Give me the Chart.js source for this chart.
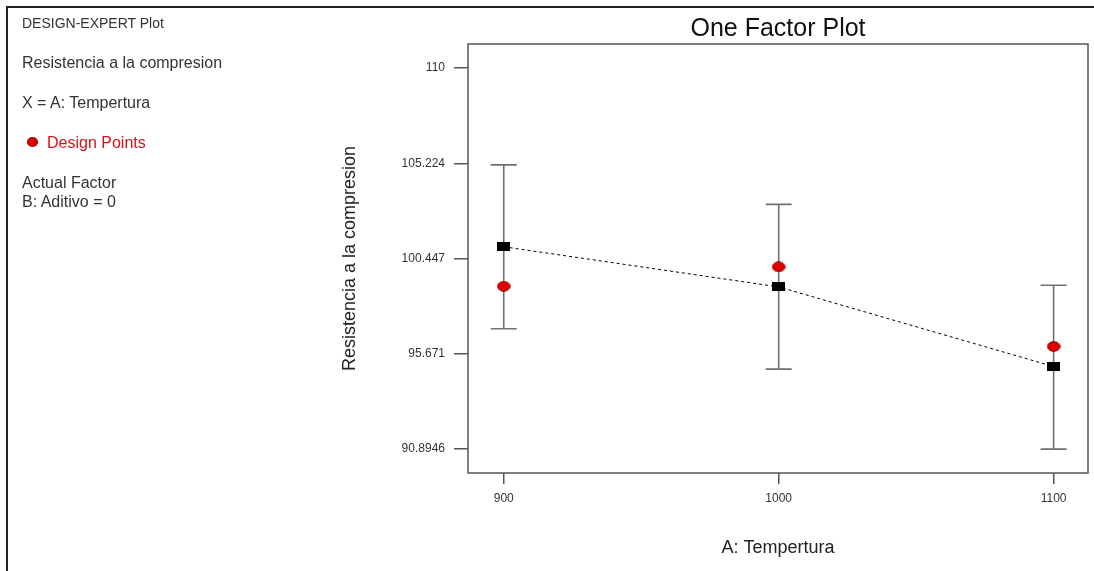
<!DOCTYPE html>
<html>
<head>
<meta charset="utf-8">
<script src="https://cdn.jsdelivr.net/npm/chart.js@4/dist/chart.umd.min.js"></script>
<style>
  body { margin: 0; background: #fff; font-family: "Liberation Sans", Arial, sans-serif; }
  #wrap { position: relative; width: 1094px; height: 571px; overflow: hidden; }
  #frame { position: absolute; left: 6px; top: 6px; width: 1200px; height: 700px; border: 2px solid #222; box-sizing: border-box; pointer-events: none; }
  .info { position: absolute; left: 22px; font-size: 16px; color: #333; line-height: 19px; }
  .head { font-size: 14px; }
  .red { color: #d0141a; }
  .dot { display: inline-block; width: 9px; height: 8px; border-radius: 50%; background: #e00000; border: 1px solid #900; margin: 0 9px 0 -20px; vertical-align: 1px; }
</style>
</head>
<body>
<div id="wrap">
  <canvas id="chart" width="1094" height="571"></canvas>
  <div id="frame"></div>
  <div class="info head" style="top:14px">DESIGN-EXPERT Plot</div>
  <div class="info" style="top:53px">Resistencia a la compresion</div>
  <div class="info" style="top:93px">X = A: Tempertura</div>
  <div class="info red" style="top:133px; left:47px"><span class="dot"></span>Design Points</div>
  <div class="info" style="top:173px">Actual Factor<br>B: Aditivo = 0</div>
</div>
<script>
const temps = [900, 1000, 1100];
const means = [101.036, 99.023, 95.027];
const upper = [105.143, 103.165, 99.103];
const lower = [96.924, 94.896, 90.884];
const designPoints = [99.053, 100.029, 96.033];

const xTicks = [900, 1000, 1100];
const xTickLabels = ["900", "1000", "1100"];
const yTicks = [90.8946, 95.671, 100.447, 105.224, 110];
const yTickLabels = ["90.8946", "95.671", "100.447", "105.224", "110"];

function marker(w, h, draw) {
    const c = document.createElement("canvas");
    c.width = w;
    c.height = h;
    draw(c.getContext("2d"), w, h);
    return c;
}

const squareImg = marker(13, 9, (g, w, h) => {
    g.fillStyle = "#000";
    g.fillRect(0, 0, w, h);
});

const dotImg = marker(14, 11, (g, w, h) => {
    g.fillStyle = "#e00000";
    g.strokeStyle = "#8a0000";
    g.lineWidth = 1;
    g.beginPath();
    g.ellipse(w / 2, h / 2, w / 2 - 0.7, h / 2 - 0.7, 0, 0, Math.PI * 2);
    g.fill();
    g.stroke();
});

// error bars + plot frame
const errorBars = {
    id: "errorBars",
    beforeDatasetsDraw(chart) {
        const ctx = chart.ctx;
        const x = chart.scales.x;
        const y = chart.scales.y;
        ctx.save();
        ctx.strokeStyle = "#707070";
        ctx.lineWidth = 1.6;
        temps.forEach((t, i) => {
            const px = x.getPixelForValue(t);
            const top = y.getPixelForValue(upper[i]);
            const bot = y.getPixelForValue(lower[i]);
            ctx.beginPath();
            ctx.moveTo(px, top);
            ctx.lineTo(px, bot);
            ctx.moveTo(px - 13, top);
            ctx.lineTo(px + 13, top);
            ctx.moveTo(px - 13, bot);
            ctx.lineTo(px + 13, bot);
            ctx.stroke();
        });
        ctx.restore();
    },
    afterDraw(chart) {
        const a = chart.chartArea;
        const ctx = chart.ctx;
        ctx.save();
        ctx.strokeStyle = "#555";
        ctx.lineWidth = 1.5;
        ctx.strokeRect(a.left, a.top, a.right - a.left, a.bottom - a.top);
        ctx.restore();
    }
};

const ctx = document.getElementById("chart");

new Chart(ctx, {
    type: "scatter",
    data: {
        datasets: [
            {
                label: "Prediction",
                data: temps.map((t, i) => ({ x: t, y: means[i] })),
                showLine: true,
                borderColor: "#000",
                borderWidth: 1,
                borderDash: [3, 3],
                pointStyle: squareImg,
                order: 2
            },
            {
                label: "Design Points",
                data: temps.map((t, i) => ({ x: t, y: designPoints[i] })),
                pointStyle: dotImg,
                order: 1
            }
        ]
    },
    options: {
        responsive: false,
        animation: false,
        layout: { padding: { left: 330, right: 6, top: 0, bottom: 0 } },
        plugins: {
            legend: { display: false },
            tooltip: { enabled: false }
        },
        scales: {
            x: {
                type: "linear",
                min: 887,
                max: 1112.5,
                afterBuildTicks: s => { s.ticks = xTicks.map(v => ({ value: v })); },
                afterFit: s => { s.height = 98; },
                grid: { drawOnChartArea: false, tickLength: 11, color: "#555", lineWidth: 1.5 },
                border: { display: false },
                ticks: {
                    color: "#333",
                    font: { family: "Liberation Sans", size: 12 },
                    padding: 7,
                    callback: (v, i) => xTickLabels[i]
                },
                title: {
                    display: true,
                    text: "A: Tempertura",
                    color: "#222",
                    font: { family: "Liberation Sans", size: 18 },
                    padding: { top: 0, bottom: 12 }
                }
            },
            xTop: {
                type: "linear",
                position: "top",
                min: 887,
                max: 1112.5,
                afterFit: s => { s.height = 44; },
                grid: { display: false },
                border: { display: false },
                ticks: { display: false },
                title: {
                    display: true,
                    text: "One Factor Plot",
                    color: "#111",
                    font: { family: "Liberation Sans", size: 25 },
                    padding: { top: 14, bottom: 0 }
                }
            },
            y: {
                type: "linear",
                min: 89.687,
                max: 111.208,
                afterBuildTicks: s => { s.ticks = yTicks.map(v => ({ value: v })); },
                afterFit: s => { s.width = 138; },
                grid: { drawOnChartArea: false, tickLength: 14, color: "#555", lineWidth: 1.5 },
                border: { display: false },
                ticks: {
                    color: "#333",
                    font: { family: "Liberation Sans", size: 12 },
                    padding: 9,
                    callback: (v, i) => yTickLabels[i]
                },
                title: {
                    display: true,
                    text: "Resistencia a la compresion",
                    color: "#222",
                    font: { family: "Liberation Sans", size: 18 },
                    padding: { top: 9, bottom: 0 }
                }
            }
        }
    },
    plugins: [errorBars]
});
</script>
</body>
</html>
